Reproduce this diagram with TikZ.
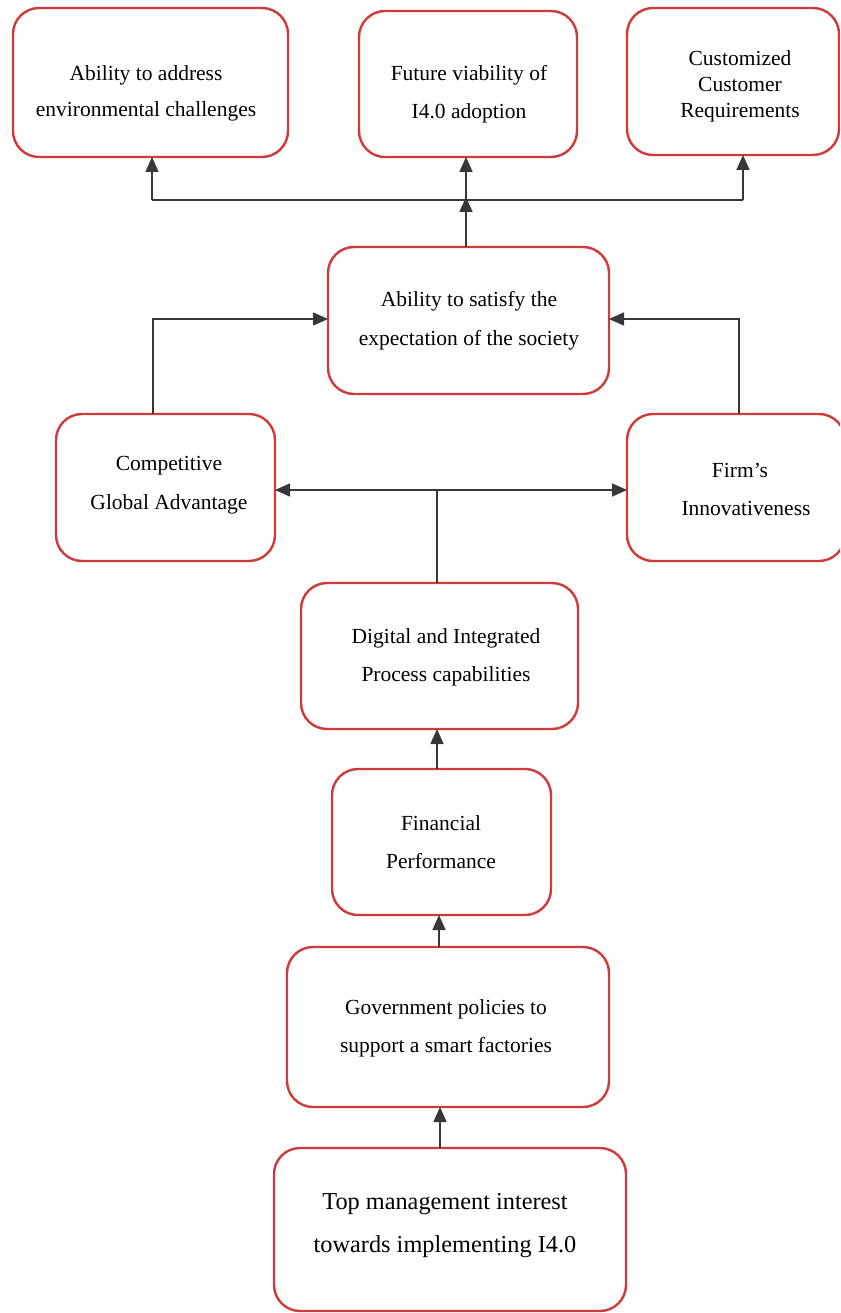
\documentclass[tikz,border=0pt]{standalone}
\usepackage{fontspec}
\setmainfont{Liberation Serif}
\usetikzlibrary{arrows.meta}
\definecolor{boxred}{RGB}{208,58,58}
\definecolor{linkgray}{RGB}{55,55,55}
\begin{document}
\begin{tikzpicture}[x=1pt,y=-1pt,
  box/.style={draw=boxred, line width=2.4pt, rounded corners=26pt, fill=white,
              inner sep=0pt, outer sep=0pt},
  lbl/.style={align=center, inner sep=0pt, font=\fontsize{21.5}{38}\selectfont},
  link/.style={draw=linkgray, line width=1.6pt},
  tip/.style={-{Triangle[length=15pt,width=13pt]}},
  tips/.style={{Triangle[length=15pt,width=13pt]}-{Triangle[length=15pt,width=13pt]}}]
  \useasboundingbox (0,0) rectangle (840,1313);
  \clip (0,0) rectangle (840,1313);

  % boxes
  \node[box, minimum width=275pt, minimum height=149pt] (b1)  at (150.5,82.5)  {};
  \node[box, minimum width=218pt, minimum height=146pt] (b2)  at (468,84)      {};
  \node[box, minimum width=212pt, minimum height=147pt] (b3)  at (733,81.5)    {};
  \node[box, minimum width=281pt, minimum height=147pt] (b4)  at (468.5,320.5) {};
  \node[box, minimum width=219pt, minimum height=147pt] (b5)  at (165.5,487.5) {};
  \node[box, minimum width=218pt, minimum height=147pt] (b6)  at (736,487.5)   {};
  \node[box, minimum width=277pt, minimum height=146pt] (b7)  at (439.5,656)   {};
  \node[box, minimum width=219pt, minimum height=146pt] (b8)  at (441.5,842)   {};
  \node[box, minimum width=322pt, minimum height=160pt] (b9)  at (448,1027)    {};
  \node[box, minimum width=352pt, minimum height=163pt] (b10) at (450,1229.5)  {};

  % texts
  \node[lbl, font=\fontsize{21.5}{36}\selectfont] (t1) at (146,93) {Ability to address\\environmental challenges};
  \node[lbl] (t2) at (469,94) {Future viability of\\I4.0 adoption};
  \node[lbl, font=\fontsize{21.5}{26}\selectfont] (t3) at (740,86) {Customized\\Customer\\Requirements};
  \node[lbl, font=\fontsize{21.5}{39}\selectfont] (t4) at (469,321) {Ability to satisfy the\\expectation of the society};
  \node[lbl, font=\fontsize{21.5}{39}\selectfont] (t5) at (169,485) {Competitive\\Global Advantage};
  \node[lbl] (t6) at (746,489) {\hspace*{-12pt}Firm’s\\Innovativeness};
  \node[lbl] (t7) at (446,657) {Digital and Integrated\\Process capabilities};
  \node[lbl] (t8) at (441,842) {Financial\\Performance};
  \node[lbl] (t9) at (446,1028) {Government policies to\\support a smart factories};
  \node[lbl, font=\fontsize{24.3}{43}\selectfont] (t10) at (445,1226) {Top management interest\\towards implementing I4.0};

  % junction points
  \coordinate (jl) at (152,200);
  \coordinate (jm) at (466,200);
  \coordinate (jr) at (743,200);
  \coordinate (kl) at (153,319);
  \coordinate (kr) at (739,319);
  \coordinate (mj) at (437,490);

  % top distribution line
  \draw[link] (jl) -- (jr);
  \draw[link,tip] (jl) -- (jl |- b1.south);
  \draw[link,tip] (jm) -- (jm |- b2.south);
  \draw[link,tip] (jr) -- (jr |- b3.south);
  \draw[link,tip] (jm |- b4.north) -- ([yshift=3pt]jm);

  % side inputs to the society box
  \draw[link,tip] (kl |- b5.north) -- (kl) -- (kl -| b4.west);
  \draw[link,tip] (kr |- b6.north) -- (kr) -- (kr -| b4.east);

  % middle branch
  \draw[link,tips] (mj -| b5.east) -- (mj -| b6.west);
  \draw[link] (mj |- b7.north) -- (mj);

  % vertical chain
  \draw[link,tip] (437,0 |- b8.north) -- (437,0 |- b7.south);
  \draw[link,tip] (439,0 |- b9.north) -- (439,0 |- b8.south);
  \draw[link,tip] (440,0 |- b10.north) -- (440,0 |- b9.south);
\end{tikzpicture}
\end{document}
